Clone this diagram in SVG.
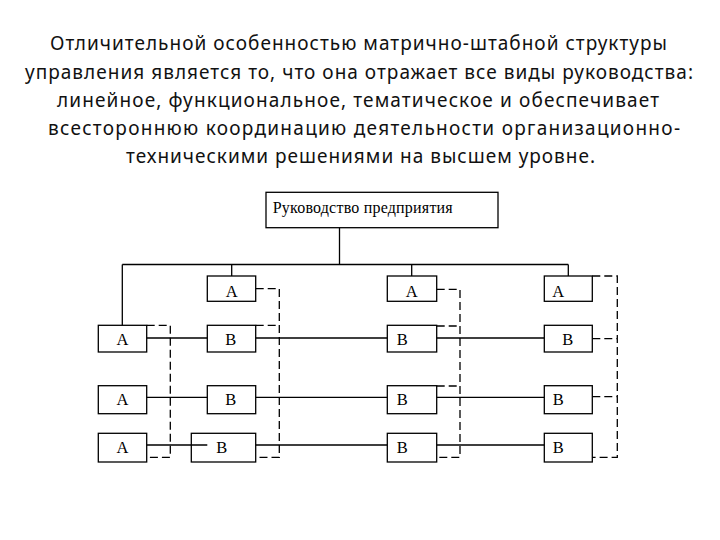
<svg xmlns="http://www.w3.org/2000/svg" width="720" height="540" viewBox="0 0 720 540">
<style>
.title{font-family:"Noto Sans","Open Sans",sans-serif;font-size:19px;fill:#111}
.box{fill:none;stroke:#000;stroke-width:1.3}
.lbl{font-family:"Liberation Serif","Times New Roman",serif;font-size:16.5px;fill:#000;text-anchor:middle}
.top{font-family:"Liberation Serif","Times New Roman",serif;font-size:16px;fill:#000}
.ln{fill:none;stroke:#000;stroke-width:1.3}
.dash{fill:none;stroke:#000;stroke-width:1.3;stroke-dasharray:8 4}
</style>
<rect width="720" height="540" fill="#fff"/>
<g id="title">
<text class="title" x="50" y="50" textLength="617" lengthAdjust="spacing">Отличительной особенностью матрично-штабной структуры</text>
<text class="title" x="25" y="78.5" textLength="668" lengthAdjust="spacing">управления является то, что она отражает все виды руководства:</text>
<text class="title" x="57" y="107" textLength="602" lengthAdjust="spacing">линейное, функциональное, тематическое и обеспечивает</text>
<text class="title" x="48" y="135" textLength="632" lengthAdjust="spacing">всестороннюю координацию деятельности организационно-</text>
<text class="title" x="126" y="163" textLength="469" lengthAdjust="spacing">техническими решениями на высшем уровне.</text>
</g>
<g id="connectors">
<path class="ln" d="M339.5,227.7 V264.5 M122.3,264.5 H568.3 M231.7,264.5 V276 M411.7,264.5 V276 M568.3,264.5 V276 M122.3,264.5 V325.3"/>
<path class="ln" d="M146.7,338 H207.3 M255.7,338 H387.3 M436.7,338 H544.3"/>
<path class="ln" d="M146.7,397.3 H207.3 M255.7,397.3 H387.3 M436.7,397.3 H544.3"/>
<path class="ln" d="M146.7,445 H207.3 M255.7,445 H387.3 M436.7,445 H544.3"/>
<path class="dash" d="M146.7,325.3 H170.3 V457.3 H146.7"/>
<path class="dash" d="M255.7,288.7 H279.3 V457.3 H255.7 M255.7,325.3 H279.3"/>
<path class="dash" d="M436.7,289.3 H460 V457.3 H436.7 M436.7,326 H460 M436.7,386 H460"/>
<path class="dash" d="M592.3,276 H617.3 V457.3 H592.3 M592.3,338.7 H617.3 M592.3,396.7 H617.3"/>
</g>
<g id="head"><rect class="box" x="266" y="192.3" width="232" height="35.4"/><text class="top" x="272.7" y="213.3" textLength="180" lengthAdjust="spacing">Руководство предприятия</text></g>
<g id="a0-1"><rect class="box" x="207.3" y="276" width="48.4" height="25.3"/><text class="lbl" x="231.7" y="297">А</text></g>
<g id="a0-2"><rect class="box" x="387.3" y="276" width="49.4" height="25.3"/><text class="lbl" x="411.7" y="297">А</text></g>
<g id="a0-3"><rect class="box" x="544.3" y="276" width="48" height="25.3"/><text class="lbl" x="558.3" y="297">А</text></g>
<g id="a1"><rect class="box" x="98.3" y="325.3" width="48.4" height="26.7"/><text class="lbl" x="122.5" y="345">А</text></g>
<g id="a2"><rect class="box" x="98.3" y="385.7" width="48.4" height="28"/><text class="lbl" x="122.5" y="405">А</text></g>
<g id="a3"><rect class="box" x="98.3" y="433.3" width="48.4" height="28.7"/><text class="lbl" x="122.5" y="453.3">А</text></g>
<g id="b1-1"><rect class="box" x="207.3" y="325.3" width="48.4" height="26.7"/><text class="lbl" x="230.7" y="345">В</text></g>
<g id="b2-1"><rect class="box" x="207.3" y="385.7" width="48.4" height="28"/><text class="lbl" x="230.7" y="405">В</text></g>
<g id="b3-1"><rect class="box" x="191.3" y="433.3" width="64.4" height="28.7"/><text class="lbl" x="221.7" y="453.3">В</text></g>
<g id="b1-2"><rect class="box" x="387.3" y="325.3" width="49.4" height="26.7"/><text class="lbl" x="402.3" y="345">В</text></g>
<g id="b2-2"><rect class="box" x="387.3" y="385.7" width="49.4" height="28"/><text class="lbl" x="402.3" y="405">В</text></g>
<g id="b3-2"><rect class="box" x="387.3" y="433.3" width="49.4" height="28.7"/><text class="lbl" x="402.3" y="453.3">В</text></g>
<g id="b1-3"><rect class="box" x="544.3" y="325.3" width="48" height="26.7"/><text class="lbl" x="567.7" y="345">В</text></g>
<g id="b2-3"><rect class="box" x="544.3" y="385.7" width="48" height="28"/><text class="lbl" x="558.3" y="405">В</text></g>
<g id="b3-3"><rect class="box" x="544.3" y="433.3" width="48" height="28.7"/><text class="lbl" x="558.3" y="453.3">В</text></g>
</svg>
